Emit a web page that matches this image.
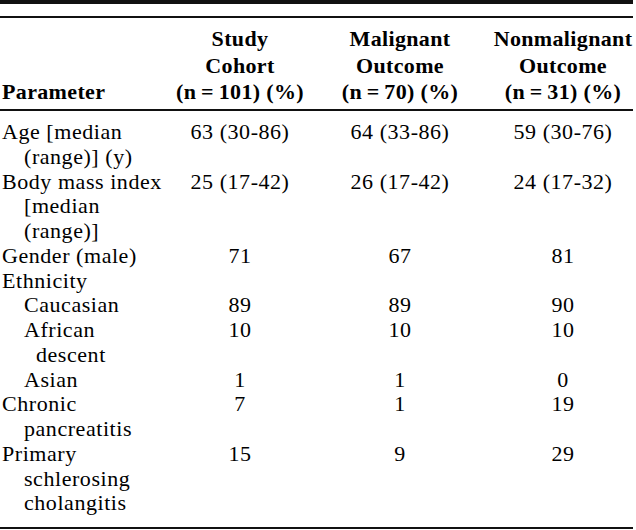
<!DOCTYPE html>
<html>
<head>
<meta charset="utf-8">
<script src="https://cdn.jsdelivr.net/npm/chart.js@4/dist/chart.umd.min.js"></script>
<style>
  html, body { margin: 0; padding: 0; background: #fff; }
  #wrap { position: relative; width: 636px; height: 530px; overflow: hidden;
          font-family: "Liberation Serif", "Times New Roman", serif; color: #000; }
  .t { position: absolute; white-space: nowrap; font-size: 22px; letter-spacing: 0.55px; }
  .b { font-weight: bold; letter-spacing: 0.35px; }
  .c { transform: translateX(-50%); text-align: center; }
  .rule { position: absolute; left: 0; width: 633px; background: #111; }
</style>
</head>
<body>
<div id="wrap"></div>
<script>
// ---- data ----
const headerLines = {
  parameter: ["Parameter"],
  study: ["Study", "Cohort", "(n\u2009=\u2009101) (%)"],
  malignant: ["Malignant", "Outcome", "(n\u2009=\u200970) (%)"],
  nonmalignant: ["Nonmalignant", "Outcome", "(n\u2009=\u200931) (%)"]
};
const paramLabels = [
  ["Age [median", "(range)] (y)"],
  ["Body mass index", "[median", "(range)]"],
  ["Gender (male)"],
  ["Ethnicity"],
  ["Caucasian"],
  ["African", "descent"],
  ["Asian"],
  ["Chronic", "pancreatitis"],
  ["Primary", "schlerosing", "cholangitis"]
];
const paramLevel = [0, 0, 0, 0, 1, 1, 1, 0, 0];
const studyCohort  = ["63 (30-86)", "25 (17-42)", "71", "", "89", "10", "1", "7", "15"];
const malignant    = ["64 (33-86)", "26 (17-42)", "67", "", "89", "10", "1", "1", "9"];
const nonmalignant = ["59 (30-76)", "24 (17-32)", "81", "", "90", "10", "0", "19", "29"];

// ---- layout ----
const wrap = document.getElementById('wrap');
function add(text, x, y, lh, cls) {
  const d = document.createElement('div');
  d.className = 't ' + cls;
  d.textContent = text;
  d.style.left = x + 'px';
  d.style.top = y + 'px';
  d.style.lineHeight = lh + 'px';
  wrap.appendChild(d);
}
function rule(y, h) {
  const d = document.createElement('div');
  d.className = 'rule';
  d.style.top = y + 'px';
  d.style.height = h + 'px';
  wrap.appendChild(d);
}
rule(0, 4);
rule(16, 2);
rule(109, 2);
rule(527, 2);

const colX = [2, 240, 400, 563];
const hLH = 26.5, hTop = 26.3;
const hdrCols = [headerLines.study, headerLines.malignant, headerLines.nonmalignant];
hdrCols.forEach((lines, ci) => {
  lines.forEach((ln, li) => add(ln, colX[ci + 1], hTop + li * hLH, hLH, 'b c'));
});
add(headerLines.parameter[0], colX[0], hTop + 2 * hLH, hLH, 'b');

const bLH = 24.73, bTop = 120.3;
const valueCols = [studyCohort, malignant, nonmalignant];
let line = 0;
paramLabels.forEach((lines, ri) => {
  const lvl = paramLevel[ri];
  lines.forEach((ln, li) => {
    let x = colX[0];
    if (lvl === 0) x += li === 0 ? 0 : 22;
    else x += li === 0 ? 22 : 34;
    add(ln, x, bTop + (line + li) * bLH, bLH, '');
  });
  valueCols.forEach((col, ci) => {
    if (col[ri] !== "") add(col[ri], colX[ci + 1], bTop + line * bLH, bLH, 'c');
  });
  line += lines.length;
});
</script>
</body>
</html>
